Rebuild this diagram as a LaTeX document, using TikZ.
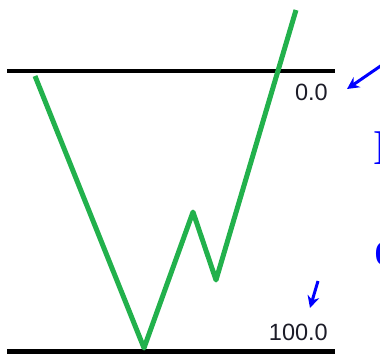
\documentclass[tikz,border=0pt]{standalone}
\usepackage{fontspec}
\setmainfont{Liberation Serif}
\newfontfamily\arialfont{Liberation Sans}
\usetikzlibrary{arrows.meta}
\definecolor{pricegreen}{HTML}{22B14C}
\definecolor{labelc}{HTML}{1C1C28}
\begin{document}
\begin{tikzpicture}[x=1pt,y=-1pt,
  levelline/.style={line width=4.5pt, black},
  priceline/.style={line width=5pt, pricegreen, line join=round},
  pointer/.style={line width=3pt, blue, -{Stealth[length=12pt,width=12pt]}},
  lbl/.style={font=\arialfont\fontsize{23.5}{26}\selectfont, text=labelc, inner sep=0pt, anchor=base east},
  cut/.style={font=\fontsize{50}{56}\selectfont, text=blue, inner sep=0pt, anchor=base west}]
\useasboundingbox (0,0) rectangle (380,354);
\clip (0,0) rectangle (380,354);
% levels
\coordinate (t0) at (7,71);
\coordinate (t1) at (335,71);
\coordinate (b0) at (7,351.5);
\coordinate (b1) at (335,351.5);
\draw[levelline] (t0) -- (t1);
\draw[levelline] (b0) -- (b1);
\node[lbl] (l0) at (328,100) {0.0};
\node[lbl] (l100) at (328,340) {100.0};
% price path
\coordinate (p1) at (35,76);
\coordinate (p2) at (144,348);
\coordinate (p3) at (193,212);
\coordinate (p4) at (216,280);
\coordinate (p5) at (296,10);
\draw[priceline] (p1) -- (p2) -- (p3) -- (p4) -- (p5);
% pointers
\coordinate (a1s) at (382,65);
\coordinate (a1e) at (347,89);
\coordinate (a2s) at (318,281);
\coordinate (a2e) at (310,308);
\draw[pointer] (a1s) -- (a1e);
\draw[pointer] (a2s) -- (a2e);
% cut-off text at right edge
\node[cut] (c1) at (373.5,164) {D};
\node[cut] (c2) at (374.5,265) {e};
\end{tikzpicture}
\end{document}
